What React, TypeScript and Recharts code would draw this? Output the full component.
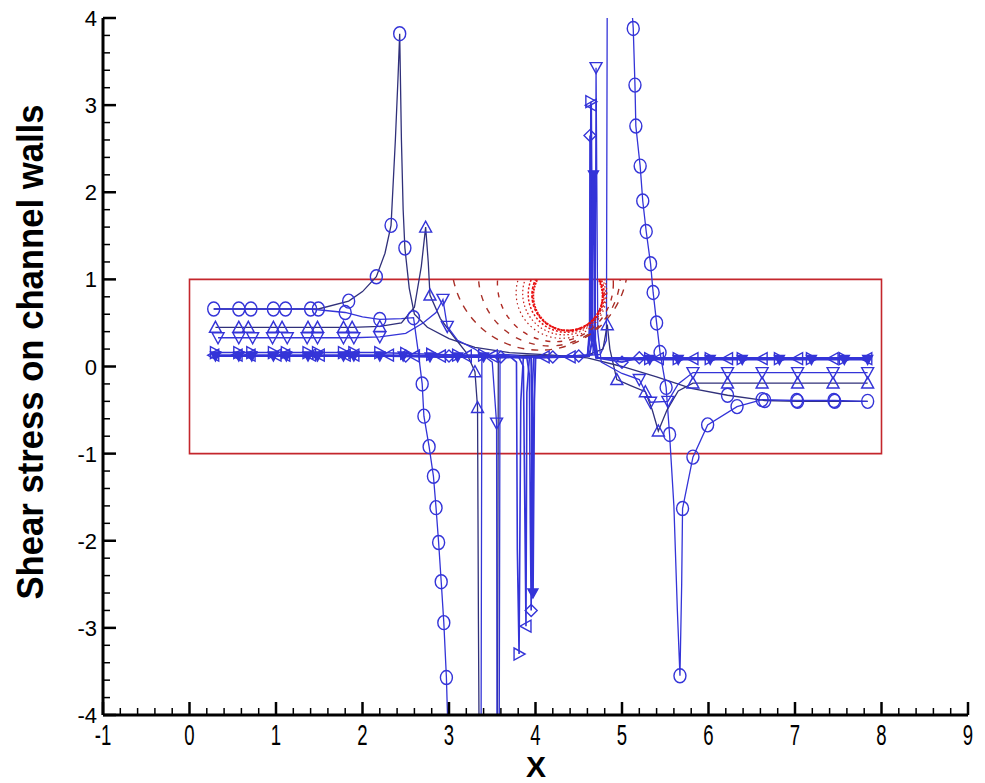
import { ComposedChart, Label, Line, ReferenceArea, Scatter, XAxis, YAxis } from "recharts";

// ---------------------------------------------------------------------------
// Data
// ---------------------------------------------------------------------------

type Pt = [number, number];

const X_TICKS = [-1, 0, 1, 2, 3, 4, 5, 6, 7, 8, 9];
const Y_TICKS = [-4, -3, -2, -1, 0, 1, 2, 3, 4];
const MINOR_STEP = 0.2;

// red box
const BOX_X = [0, 8];
const BOX_Y = [-1, 1];

// red arcs: centre x, centre y, radius (data units)
const ARC_X = [4.05, 4.16, 4.23, 4.3, 4.33, 4.355, 4.37, 4.375];
const ARC_Y = [1.2, 1.05, 0.95, 0.844, 0.838, 0.829, 0.82, 0.81];
const ARC_R = [1.02, 0.82, 0.67, 0.524, 0.478, 0.439, 0.41, 0.4];

const CIRCLE_U_LINE: Pt[] = [
  [0.28, 0.66], [0.71, 0.66], [1.11, 0.66], [1.49, 0.66], [1.84, 0.75], [2.0, 0.86],
  [2.16, 1.03], [2.26, 1.3], [2.33, 1.62], [2.38, 2.6], [2.41, 3.3], [2.43, 3.82],
  [2.45, 2.6], [2.47, 1.8], [2.49, 1.36], [2.54, 0.9], [2.6, 0.6], [2.75, 0.45],
  [3.0, 0.32], [3.3, 0.22], [3.7, 0.16], [4.2, 0.13], [4.6, 0.1], [5.0, 0.0],
  [5.4, -0.12], [5.8, -0.25], [6.22, -0.33], [6.65, -0.39], [7.03, -0.4], [7.46, -0.4],
  [7.84, -0.4],
];
const CIRCLE_U_MARKS: Pt[] = [
  [0.28, 0.66], [0.71, 0.66], [1.11, 0.66], [1.49, 0.66], [1.84, 0.75], [2.16, 1.03],
  [2.33, 1.62], [2.43, 3.82], [2.49, 1.36], [6.22, -0.33], [6.65, -0.39], [7.03, -0.4],
  [7.46, -0.4], [7.84, -0.4],
];

const CIRCLE_L_LINE: Pt[] = [
  [0.28, 0.66], [0.57, 0.66], [0.97, 0.66], [1.4, 0.66], [1.8, 0.62], [2.0, 0.57],
  [2.2, 0.54], [2.45, 0.55], [2.59, 0.56], [2.64, 0.2], [2.69, -0.2], [2.71, -0.57],
  [2.77, -0.92], [2.82, -1.26], [2.85, -1.62], [2.88, -2.02], [2.91, -2.47], [2.94, -2.94],
  [2.97, -3.57], [3.0, -4.6], [3.37, -4.6], [3.38, 0.1], [3.6, 0.14], [4.0, 0.12],
  [4.4, 0.11], [4.75, 0.14], [4.82, 0.3], [4.83, 4.6], [5.08, 4.6], [5.13, 3.88],
  [5.15, 3.23], [5.16, 2.76], [5.21, 2.3], [5.24, 1.9], [5.28, 1.55], [5.33, 1.18],
  [5.36, 0.85], [5.4, 0.5], [5.44, 0.16], [5.51, -0.24], [5.55, -0.78], [5.6, -1.6],
  [5.64, -2.8], [5.67, -3.55], [5.69, -2.5], [5.7, -1.63], [5.82, -1.04], [5.99, -0.67],
  [6.33, -0.46], [6.62, -0.38], [7.02, -0.39], [7.45, -0.39], [7.84, -0.4],
];
const CIRCLE_L_MARKS: Pt[] = [
  [0.57, 0.66], [0.97, 0.66], [1.4, 0.66], [1.8, 0.62], [2.2, 0.54], [2.59, 0.56],
  [2.69, -0.2], [2.71, -0.57], [2.77, -0.92], [2.82, -1.26], [2.85, -1.62], [2.88, -2.02],
  [2.91, -2.47], [2.94, -2.94], [2.97, -3.57], [5.13, 3.88], [5.15, 3.23], [5.16, 2.76],
  [5.21, 2.3], [5.24, 1.9], [5.28, 1.55], [5.33, 1.18], [5.36, 0.85], [5.4, 0.5],
  [5.44, 0.16], [5.51, -0.24], [5.55, -0.78], [5.67, -3.55], [5.7, -1.63], [5.82, -1.04],
  [5.99, -0.67], [6.33, -0.46], [6.62, -0.38], [7.02, -0.39], [7.45, -0.39],
];

const DELTA_LINE: Pt[] = [
  [0.3, 0.45], [0.57, 0.45], [0.68, 0.45], [0.97, 0.45], [1.07, 0.45], [1.37, 0.45],
  [1.48, 0.45], [1.78, 0.45], [1.88, 0.45], [2.2, 0.46], [2.45, 0.5], [2.6, 0.68],
  [2.68, 1.15], [2.73, 1.6], [2.76, 1.2], [2.78, 0.82], [2.9, 0.55], [3.05, 0.35],
  [3.2, 0.16], [3.3, -0.06], [3.33, -0.47], [3.34, -2.9], [3.35, -4.6], [3.56, -4.6],
  [3.57, 0.1], [3.9, 0.13], [4.3, 0.12], [4.6, 0.13], [4.78, 0.2], [4.83, 0.48],
  [4.86, 0.2], [4.94, -0.15], [5.1, -0.22], [5.27, -0.29], [5.35, -0.5], [5.42, -0.74],
  [5.52, -0.5], [5.65, -0.28], [5.82, -0.19], [6.22, -0.19], [6.62, -0.19], [7.03, -0.19],
  [7.44, -0.19], [7.84, -0.19],
];
const DELTA_MARKS: Pt[] = [
  [0.3, 0.45], [0.57, 0.45], [0.68, 0.45], [0.97, 0.45], [1.07, 0.45], [1.37, 0.45],
  [1.48, 0.45], [1.78, 0.45], [1.88, 0.45], [2.2, 0.46], [2.73, 1.6], [2.78, 0.82],
  [3.3, -0.06], [3.33, -0.47], [4.83, 0.48], [4.94, -0.15], [5.27, -0.29], [5.42, -0.74],
  [5.82, -0.19], [6.22, -0.19], [6.62, -0.19], [7.03, -0.19], [7.44, -0.19], [7.84, -0.19],
];

const GRAD_LINE: Pt[] = [
  [0.33, 0.33], [0.57, 0.33], [0.73, 0.33], [0.96, 0.33], [1.13, 0.33], [1.36, 0.33],
  [1.48, 0.33], [1.78, 0.33], [1.9, 0.33], [2.2, 0.34], [2.5, 0.38], [2.7, 0.5],
  [2.85, 0.62], [2.93, 0.77], [2.98, 0.46], [3.1, 0.3], [3.3, 0.2], [3.5, 0.05],
  [3.55, -0.65], [3.555, -4.6], [3.58, -4.6], [3.59, 0.1], [4.0, 0.12], [4.4, 0.12],
  [4.66, 0.14], [4.69, 0.4], [4.7, 3.43], [4.72, 0.4], [4.76, 0.05], [5.0, -0.08],
  [5.2, -0.15], [5.33, -0.41], [5.53, -0.4], [5.65, -0.2], [5.82, -0.07], [6.22, -0.07],
  [6.62, -0.07], [7.03, -0.07], [7.44, -0.07], [7.84, -0.07],
];
const GRAD_MARKS: Pt[] = [
  [0.33, 0.33], [0.57, 0.33], [0.73, 0.33], [0.96, 0.33], [1.13, 0.33], [1.36, 0.33],
  [1.48, 0.33], [1.78, 0.33], [1.9, 0.33], [2.2, 0.34], [2.93, 0.77], [2.98, 0.46],
  [3.55, -0.65], [4.7, 3.43], [5.2, -0.15], [5.33, -0.41], [5.53, -0.4], [5.82, -0.07],
  [6.22, -0.07], [6.62, -0.07], [7.03, -0.07], [7.44, -0.07], [7.84, -0.07],
];

const RTRI_LINE: Pt[] = [
  [0.3, 0.16], [0.72, 0.16], [1.12, 0.16], [1.48, 0.16], [1.9, 0.16], [2.2, 0.16],
  [2.5, 0.15], [2.8, 0.14], [3.1, 0.13], [3.4, 0.13], [3.7, 0.12], [3.78, 0.05],
  [3.79, -2.1], [3.81, -3.3], [3.83, -0.4], [3.86, 0.11], [4.2, 0.11], [4.6, 0.12],
  [4.63, 0.5], [4.64, 3.04], [4.655, 0.5], [4.7, 0.1], [5.0, 0.09], [5.32, 0.09],
  [5.65, 0.09], [6.02, 0.09], [6.39, 0.09], [6.82, 0.09], [7.19, 0.09], [7.57, 0.09],
  [7.84, 0.09],
];
const RTRI_MARKS: Pt[] = [
  [0.3, 0.16], [0.57, 0.16], [0.72, 0.16], [0.97, 0.16], [1.12, 0.16], [1.37, 0.16],
  [1.48, 0.16], [1.78, 0.16], [1.9, 0.16], [2.2, 0.16], [2.5, 0.15], [2.8, 0.14],
  [3.1, 0.13], [3.4, 0.13], [3.81, -3.3], [4.64, 3.04], [5.32, 0.09], [5.65, 0.09],
  [6.02, 0.09], [6.39, 0.09], [6.82, 0.09], [7.19, 0.09], [7.57, 0.09],
];

const LTRI_LINE: Pt[] = [
  [0.28, 0.13], [0.7, 0.13], [1.1, 0.13], [1.5, 0.13], [1.9, 0.13], [2.3, 0.13],
  [2.9, 0.12], [3.5, 0.12], [3.8, 0.12], [3.86, 0.0], [3.87, -1.0], [3.89, -2.98],
  [3.9, -0.3], [3.93, 0.11], [4.3, 0.11], [4.6, 0.12], [4.635, 0.4], [4.645, 3.0],
  [4.66, 0.4], [4.7, 0.1], [5.0, 0.1], [5.42, 0.09], [5.82, 0.09], [6.22, 0.09],
  [6.62, 0.09], [7.03, 0.09], [7.44, 0.09], [7.83, 0.09],
];
const LTRI_MARKS: Pt[] = [
  [0.28, 0.13], [0.55, 0.13], [0.7, 0.13], [1.0, 0.13], [1.1, 0.13], [1.4, 0.13],
  [1.5, 0.13], [1.8, 0.13], [1.9, 0.13], [2.3, 0.13], [2.6, 0.12], [2.9, 0.12],
  [3.2, 0.12], [3.5, 0.12], [3.89, -2.98], [4.1, 0.11], [4.4, 0.11], [4.645, 3.0],
  [5.42, 0.09], [5.82, 0.09], [6.22, 0.09], [6.62, 0.09], [7.03, 0.09], [7.44, 0.09],
  [7.83, 0.09],
];

const DIAM_LINE: Pt[] = [
  [0.3, 0.12], [0.8, 0.12], [1.3, 0.12], [1.8, 0.12], [2.3, 0.12], [2.9, 0.12],
  [3.5, 0.11], [3.9, 0.1], [3.93, -0.1], [3.94, -1.8], [3.95, -2.8], [3.96, -0.3],
  [3.98, 0.1], [4.3, 0.11], [4.6, 0.12], [4.625, 0.3], [4.63, 2.65], [4.645, 0.3],
  [4.7, 0.1], [5.0, 0.05], [5.2, 0.1], [5.6, 0.1], [6.4, 0.1], [7.2, 0.1], [7.84, 0.1],
];
const DIAM_MARKS: Pt[] = [
  [2.5, 0.12], [3.0, 0.12], [3.6, 0.11], [3.95, -2.8], [4.2, 0.11], [4.5, 0.12],
  [4.63, 2.65], [5.0, 0.05], [5.2, 0.1],
];

const FILL_LINE: Pt[] = [
  [0.3, 0.12], [0.8, 0.12], [1.3, 0.12], [1.8, 0.12], [2.3, 0.12], [2.9, 0.11],
  [3.5, 0.11], [3.95, 0.1], [3.96, -0.5], [3.97, -2.6], [3.985, -0.4], [4.0, 0.1],
  [4.3, 0.11], [4.62, 0.12], [4.655, 0.3], [4.665, 2.2], [4.68, 2.2], [4.69, 0.3],
  [4.72, 0.1], [5.0, 0.08], [5.4, 0.08], [6.0, 0.08], [6.8, 0.08], [7.84, 0.08],
];
const FILL_MARKS: Pt[] = [
  [0.3, 0.12], [0.57, 0.12], [0.72, 0.12], [0.97, 0.12], [1.12, 0.12], [1.37, 0.12],
  [1.48, 0.12], [1.78, 0.12], [1.9, 0.12], [2.2, 0.12], [2.47, 0.12], [2.78, 0.11],
  [3.1, 0.11], [3.4, 0.11], [3.97, -2.6], [4.67, 2.2], [5.32, 0.08], [5.65, 0.08],
  [6.02, 0.08], [6.39, 0.08], [6.82, 0.08], [7.19, 0.08], [7.57, 0.08], [7.84, 0.08],
];

// ---------------------------------------------------------------------------
// Layout / style
// ---------------------------------------------------------------------------

const W = 985;
const H = 783;
const PLOT = { left: 103, right: 968, top: 18, bottom: 715 };
const Y_AXIS_W = 60;
const X_AXIS_H = 40;
const PX_X = (PLOT.right - PLOT.left) / (X_TICKS[X_TICKS.length - 1] - X_TICKS[0]);
const PX_Y = (PLOT.bottom - PLOT.top) / (Y_TICKS[Y_TICKS.length - 1] - Y_TICKS[0]);

const BLUE = "#3434d8";
const DARK = "#30307a";
const RED = "#c4262c";
const FONT = "'Liberation Sans', Arial, sans-serif";

const ARC_STYLE = [
  { stroke: "#a83028", dash: "7 7", w: 1.4 },
  { stroke: "#a83028", dash: "6 8", w: 1.4 },
  { stroke: "#b02a24", dash: "5 7", w: 1.4 },
  { stroke: "#b8221c", dash: "1.5 3", w: 1.2 },
  { stroke: "#c81c18", dash: "1.5 2.5", w: 1.2 },
  { stroke: "#e01414", dash: "2 2", w: 1.5 },
  { stroke: "#e81010", dash: "3 1.5", w: 1.8 },
  { stroke: "#e81010", dash: "2 1", w: 1.8 },
];

type Kind = "circle" | "delta" | "grad" | "rtri" | "ltri" | "diamond" | "fill";

const SERIES: { id: string; kind: Kind; line: Pt[]; marks: Pt[]; color: string; w: number }[] = [
  { id: "cu", kind: "circle", line: CIRCLE_U_LINE, marks: CIRCLE_U_MARKS, color: DARK, w: 1.3 },
  { id: "cl", kind: "circle", line: CIRCLE_L_LINE, marks: CIRCLE_L_MARKS, color: BLUE, w: 1.3 },
  { id: "de", kind: "delta", line: DELTA_LINE, marks: DELTA_MARKS, color: DARK, w: 1.3 },
  { id: "gr", kind: "grad", line: GRAD_LINE, marks: GRAD_MARKS, color: BLUE, w: 1.3 },
  { id: "rt", kind: "rtri", line: RTRI_LINE, marks: RTRI_MARKS, color: BLUE, w: 1.6 },
  { id: "lt", kind: "ltri", line: LTRI_LINE, marks: LTRI_MARKS, color: BLUE, w: 1.6 },
  { id: "di", kind: "diamond", line: DIAM_LINE, marks: DIAM_MARKS, color: BLUE, w: 1.6 },
  { id: "fi", kind: "fill", line: FILL_LINE, marks: FILL_MARKS, color: BLUE, w: 2 },
];

const toPts = (a: Pt[]) => a.map(([x, y]) => ({ x, y }));

const minorTicks = (lo: number, hi: number) => {
  const out: number[] = [];
  const n = Math.round((hi - lo) / MINOR_STEP);
  for (let i = 0; i <= n; i++) out.push(Math.round((lo + i * MINOR_STEP) * 10) / 10);
  return out;
};

const isMajor = (v: number) => Math.abs(v - Math.round(v)) < 1e-6;

// ---------------------------------------------------------------------------
// Marks
// ---------------------------------------------------------------------------

function Marker({ kind, cx, cy }: { kind: Kind; cx: number; cy: number }) {
  const p = { fill: "none", stroke: BLUE, strokeWidth: 1.4 };
  switch (kind) {
    case "circle":
      return <ellipse cx={cx} cy={cy} rx={6} ry={7} {...p} />;
    case "delta":
      return <polygon points={`${cx - 6},${cy + 5} ${cx + 6},${cy + 5} ${cx},${cy - 6}`} {...p} />;
    case "grad":
      return <polygon points={`${cx - 6},${cy - 5} ${cx + 6},${cy - 5} ${cx},${cy + 6}`} {...p} />;
    case "rtri":
      return <polygon points={`${cx - 5},${cy - 6} ${cx - 5},${cy + 6} ${cx + 6},${cy}`} {...p} />;
    case "ltri":
      return <polygon points={`${cx + 5},${cy - 6} ${cx + 5},${cy + 6} ${cx - 6},${cy}`} {...p} />;
    case "diamond":
      return <polygon points={`${cx},${cy - 6} ${cx + 6},${cy} ${cx},${cy + 6} ${cx - 6},${cy}`} {...p} />;
    default:
      return (
        <polygon
          points={`${cx - 5},${cy - 4} ${cx + 5},${cy - 4} ${cx},${cy + 5}`}
          fill={BLUE}
          stroke={BLUE}
          strokeWidth={1.4}
        />
      );
  }
}

function ArcShape(props: any) {
  const { cx, cy, payload } = props;
  const i = payload.i as number;
  const s = ARC_STYLE[i];
  const r = payload.r * PX_X;
  // clip at the top edge of the red box
  const top = cy - (BOX_Y[1] - payload.y) * PX_Y;
  const id = `arc-clip-${i}`;
  return (
    <g>
      <clipPath id={id}>
        <rect x={cx - r - 3} y={top} width={2 * r + 6} height={Math.max(0, cy + r + 3 - top)} />
      </clipPath>
      <circle
        cx={cx}
        cy={cy}
        r={r}
        fill="none"
        stroke={s.stroke}
        strokeWidth={s.w}
        strokeDasharray={s.dash}
        clipPath={`url(#${id})`}
      />
    </g>
  );
}

function XTick(props: any) {
  const { x, y, payload } = props;
  const v = payload.value as number;
  const major = isMajor(v);
  return (
    <g>
      <line x1={x} x2={x} y1={y} y2={y - (major ? 13 : 7)} stroke="#000" strokeWidth={major ? 2.5 : 1.5} />
      {major && (
        <text
          transform={`translate(${x},${y + 30}) scale(0.64,1)`}
          textAnchor="middle"
          fontFamily={FONT}
          fontSize={29}
          fill="#000"
        >
          {Math.round(v)}
        </text>
      )}
    </g>
  );
}

function YTick(props: any) {
  const { x, y, payload } = props;
  const v = payload.value as number;
  const major = isMajor(v);
  return (
    <g>
      <line x1={x} x2={x + (major ? 13 : 7)} y1={y} y2={y} stroke="#000" strokeWidth={major ? 2.5 : 1.5} />
      {major && (
        <text x={x - 6} y={y + 8} textAnchor="end" fontFamily={FONT} fontSize={22} fill="#000">
          {Math.round(v)}
        </text>
      )}
    </g>
  );
}

// ---------------------------------------------------------------------------
// Chart
// ---------------------------------------------------------------------------

export default function App() {
  const arcs = ARC_X.map((x, i) => ({ x, y: ARC_Y[i], r: ARC_R[i], i }));
  const xTicks = minorTicks(X_TICKS[0], X_TICKS[X_TICKS.length - 1]);
  const yTicks = minorTicks(Y_TICKS[0], Y_TICKS[Y_TICKS.length - 1]);

  return (
    <div style={{ position: "absolute", left: 0, top: 0, width: W, height: H, background: "#fff" }}>
      <ComposedChart
        width={W}
        height={H}
        margin={{
          top: PLOT.top,
          right: W - PLOT.right,
          left: PLOT.left - Y_AXIS_W,
          bottom: H - PLOT.bottom - X_AXIS_H,
        }}
      >
        <XAxis
          type="number"
          dataKey="x"
          domain={[X_TICKS[0], X_TICKS[X_TICKS.length - 1]]}
          ticks={xTicks}
          interval={0}
          allowDataOverflow
          height={X_AXIS_H}
          tickSize={0}
          tickMargin={0}
          tickLine={false}
          axisLine={{ stroke: "#000", strokeWidth: 3 }}
          tick={<XTick />}
        >
          <Label
            content={() => (
              <text x={536} y={777} textAnchor="middle" fontFamily={FONT} fontWeight="bold" fontSize={30} fill="#000">
                X
              </text>
            )}
          />
        </XAxis>
        <YAxis
          type="number"
          dataKey="y"
          domain={[Y_TICKS[0], Y_TICKS[Y_TICKS.length - 1]]}
          ticks={yTicks}
          interval={0}
          allowDataOverflow
          width={Y_AXIS_W}
          tickSize={0}
          tickMargin={0}
          tickLine={false}
          axisLine={{ stroke: "#000", strokeWidth: 3 }}
          tick={<YTick />}
        >
          <Label
            content={() => (
              <text
                transform="translate(43,352) rotate(-90)"
                textAnchor="middle"
                fontFamily={FONT}
                fontWeight="bold"
                fontSize={36}
                textLength={495}
                lengthAdjust="spacingAndGlyphs"
                fill="#000"
              >
                Shear stress on channel walls
              </text>
            )}
          />
        </YAxis>

        <ReferenceArea
          x1={BOX_X[0]}
          x2={BOX_X[1]}
          y1={BOX_Y[0]}
          y2={BOX_Y[1]}
          fill="none"
          fillOpacity={0}
          stroke={RED}
          strokeWidth={1.6}
          ifOverflow="visible"
        />

        <Scatter data={arcs} shape={<ArcShape />} isAnimationActive={false} />

        {SERIES.map((s) => (
          <Line
            key={`${s.id}-line`}
            data={toPts(s.line)}
            dataKey="y"
            type="linear"
            stroke={s.color}
            strokeWidth={s.w}
            dot={false}
            activeDot={false}
            isAnimationActive={false}
          />
        ))}
        {SERIES.map((s) => (
          <Scatter
            key={`${s.id}-marks`}
            data={toPts(s.marks)}
            shape={(p: any) => <Marker kind={s.kind} cx={p.cx} cy={p.cy} />}
            isAnimationActive={false}
          />
        ))}
      </ComposedChart>
    </div>
  );
}
